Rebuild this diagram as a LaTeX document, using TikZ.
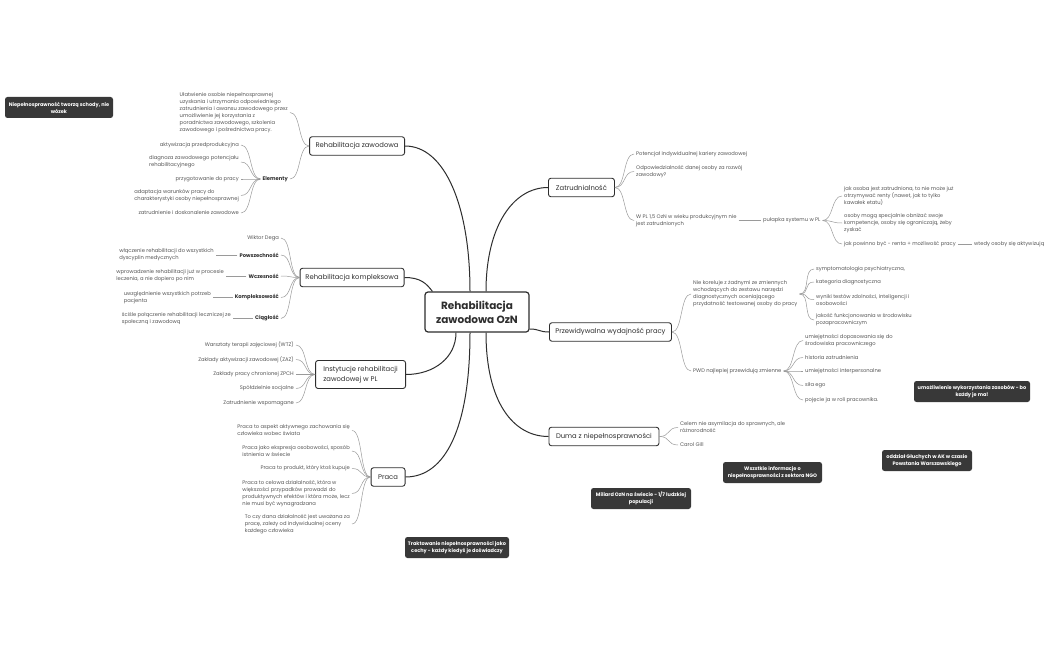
\documentclass[tikz,border=0pt]{standalone}
\usepackage{fontspec}
\setmainfont{Poppins}
\definecolor{dk}{HTML}{2E2E2E}
\definecolor{lfc}{HTML}{555555}
\definecolor{lnc}{HTML}{9A9A9A}
\definecolor{ntc}{HTML}{383838}
\newcommand\myleaffont{\fontsize{5.2}{7}\selectfont}
\newcommand\mytopicfont{\fontsize{6.8}{10}\selectfont}
\newcommand\mynotefont{\bfseries\fontsize{5}{7}\selectfont}
\newcommand\brL[2]{\draw[br] (#1.west) .. controls +(-11,0) and +(11,0) .. (#2.east);}
\newcommand\brR[2]{\draw[br] (#1.east) .. controls +(11,0) and +(-11,0) .. (#2.west);}
\begin{document}
\begin{tikzpicture}[x=1pt,y=-1pt,
  mainln/.style={draw=dk,line width=1pt},
  br/.style={draw=lnc,line width=0.5pt},
  centerbox/.style={draw=dk,line width=1.2pt,rounded corners=3pt,fill=white,font=\bfseries\fontsize{10.5}{14}\selectfont,text=dk,align=center,minimum width=104pt,minimum height=40pt,inner sep=0pt},
  topic/.style={draw=dk,line width=0.9pt,rounded corners=2.5pt,fill=white,font=\mytopicfont,text=dk,minimum height=18.5pt,inner sep=0pt,align=center},
  leafL/.style={anchor=east,align=left,font=\myleaffont,text=lfc,inner xsep=2pt,inner ysep=1pt},
  leafR/.style={anchor=west,align=left,font=\myleaffont,text=lfc,inner xsep=2pt,inner ysep=1pt},
  subL/.style={anchor=east,font=\bfseries\myleaffont,text=dk,inner xsep=2pt,inner ysep=1pt},
  note/.style={fill=ntc,rounded corners=2.5pt,text=white,font=\mynotefont,align=center,minimum height=21pt,inner sep=0pt}
]
\fill[white] (0,0) rectangle (1050,650);
\useasboundingbox (0,0) rectangle (1050,650);

% central
\node[centerbox] (c) at (477,312) {Rehabilitacja\\zawodowa OzN};

% main topics
\node[topic,anchor=east,minimum width=95pt] (rz) at (405,146) {Rehabilitacja zawodowa};
\node[topic,anchor=east,minimum width=104pt] (rk) at (404.5,277.5) {Rehabilitacja kompleksowa};
\node[topic,anchor=east,minimum width=90pt,minimum height=28pt,align=left] (in) at (406,374.5) {Instytucje rehabilitacji\\zawodowej w PL};
\node[topic,anchor=east,minimum width=34pt] (pr) at (405.5,477) {Praca};
\node[topic,anchor=west,minimum width=66pt] (za) at (548,187.5) {Zatrudnialność};
\node[topic,anchor=west,minimum width=122pt] (pw) at (549,332) {Przewidywalna wydajność pracy};
\node[topic,anchor=west,minimum width=110pt] (du) at (548.5,436.5) {Duma z niepełnosprawności};

\draw[mainln] ([xshift=-7pt]c.north) .. controls +(0,-85) and +(40,0) .. (rz.east);
\draw[mainln] ([xshift=9pt]c.north) .. controls +(0,-65) and +(-35,0) .. (za.west);
\draw[mainln] (rk.east) .. controls +(16,0) and +(-6,-8) .. ([xshift=8pt]c.north west);
\draw[mainln] ([yshift=-17pt]c.east) .. controls +(10,0) and +(-10,0) .. (pw.west);
\draw[mainln] ([xshift=-21pt]c.south) .. controls +(0,25) and +(28,0) .. (in.east);
\draw[mainln] ([xshift=-7pt]c.south) .. controls +(0,95) and +(40,0) .. (pr.east);
\draw[mainln] ([xshift=9pt]c.south) .. controls +(0,70) and +(-35,0) .. (du.west);

% Rehabilitacja zawodowa
\node[leafL] (rz1) at (290,112.5) {Ułatwienie osobie niepełnosprawnej\\uzyskania i utrzymania odpowiedniego\\zatrudnienia i awansu zawodowego przez\\umożliwienie jej korzystania z\\poradnictwa zawodowego, szkolenia\\zawodowego i pośrednictwa pracy.};
\node[subL] (el) at (290,179) {Elementy};
\node[leafL] (e1) at (241,145) {aktywizacja przedprodukcyjna};
\node[leafL] (e2) at (241,162) {diagnoza zawodowego potencjału\\rehabilitacyjnego};
\node[leafL] (e3) at (241,179) {przygotowanie do pracy};
\node[leafL] (e4) at (241,195.5) {adaptacja warunków pracy do\\charakterystyki osoby niepełnosprawnej};
\node[leafL] (e5) at (241,213) {zatrudnienie i doskonalenie zawodowe};
\brL{rz}{rz1} \brL{rz}{el}
\brL{el}{e1} \brL{el}{e2} \brL{el}{e3} \brL{el}{e4} \brL{el}{e5}

% Rehabilitacja kompleksowa
\node[leafL] (k0) at (281,238) {Wiktor Dega};
\node[subL] (k1) at (281,255) {Powszechność};
\node[subL] (k2) at (281,276) {Wczesność};
\node[subL] (k3) at (281,297.5) {Kompleksowość};
\node[subL] (k4) at (281,318.5) {Ciągłość};
\brL{rk}{k0} \brL{rk}{k1} \brL{rk}{k2} \brL{rk}{k3} \brL{rk}{k4}
\node[leafL] (k1l) at (216,255) {włączenie rehabilitacji do wszystkich\\dyscyplin medycznych};
\node[leafL] (k2l) at (226,276) {wprowadzenie rehabilitacji już w procesie\\leczenia, a nie dopiero po nim};
\node[leafL] (k3l) at (213,297.5) {uwzględnienie wszystkich potrzeb\\pacjenta};
\node[leafL] (k4l) at (233,318.5) {ściśle połączenie rehabilitacji leczniczej ze\\społeczną i zawodową};
\draw[br] (k1.west) -- (k1l.east);
\draw[br] (k2.west) -- (k2l.east);
\draw[br] (k3.west) -- (k3l.east);
\draw[br] (k4.west) -- (k4l.east);

% Instytucje
\node[leafL] (i1) at (296,345) {Warsztaty terapii zajęciowej (WTZ)};
\node[leafL] (i2) at (296,359.5) {Zakłady aktywizacji zawodowej (ZAZ)};
\node[leafL] (i3) at (296,374.5) {Zakłady pracy chronionej ZPCH};
\node[leafL] (i4) at (296,388.5) {Spółdzielnie socjalne};
\node[leafL] (i5) at (296,403) {Zatrudnienie wspomagane};
\brL{in}{i1} \brL{in}{i2} \brL{in}{i3} \brL{in}{i4} \brL{in}{i5}

% Praca
\node[leafL] (p1) at (352,430.5) {Praca to aspekt aktywnego zachowania się\\człowieka wobec świata};
\node[leafL] (p2) at (352,451) {Praca jako ekspresja osobowości, sposób\\istnienia w świecie};
\node[leafL] (p3) at (352,468.5) {Praca to produkt, który ktoś kupuje};
\node[leafL] (p4) at (352,493.5) {Praca to celowa działalność, która w\\większości przypadków prowadzi do\\produktywnych efektów i która może, lecz\\nie musi być wynagradzana};
\node[leafL] (p5) at (352,524) {To czy dana działalność jest uważana za\\pracę, zależy od indywidualnej oceny\\każdego człowieka};
\brL{pr}{p1} \brL{pr}{p2} \brL{pr}{p3} \brL{pr}{p4} \brL{pr}{p5}

% Zatrudnialnosc
\node[leafR] (z1) at (634,154) {Potencjał indywidualnej kariery zawodowej};
\node[leafR] (z2) at (634,171.5) {Odpowiedzialność danej osoby za rozwój\\zawodowy?};
\node[leafR] (z3) at (634,220.5) {W PL 1,5 OzN w wieku produkcyjnym nie\\jest zatrudnionych};
\brR{za}{z1} \brR{za}{z2} \brR{za}{z3}
\node[leafR] (pu) at (761,220.5) {pułapka systemu w PL};
\draw[br] (z3.east) -- (pu.west);
\node[leafR] (u1) at (842,196) {jak osoba jest zatrudniona, to nie może już\\otrzymywać renty (nawet, jak to tylko\\kawałek etatu)};
\node[leafR] (u2) at (842,223) {osoby mogą specjalnie obniżać swoje\\kompetencje, osoby się ograniczają, żeby\\zyskać};
\node[leafR] (u3) at (842,244) {jak powinno być - renta + możliwość pracy};
\brR{pu}{u1} \brR{pu}{u2} \brR{pu}{u3}
\node[leafR] (u3a) at (972,244) {wtedy osoby się aktywizują};
\draw[br] (u3.east) -- (u3a.west);

% Przewidywalna
\node[leafR] (w1) at (691,294) {Nie koreluje z żadnymi ze zmiennych\\wchodzących do zestawu narzędzi\\diagnostycznych oceniającego\\przydatność testowanej osoby do pracy};
\node[leafR] (w2) at (691,371) {PWD najlepiej przewidują zmienne};
\brR{pw}{w1} \brR{pw}{w2}
\node[leafR] (a1) at (814,269) {symptomatologia psychiatryczna,};
\node[leafR] (a2) at (814,282) {kategoria diagnostyczna};
\node[leafR] (a3) at (814,299.5) {wyniki testów zdolności, inteligencji i\\osobowości};
\node[leafR] (a4) at (814,320) {jakość funkcjonowania w środowisku\\pozapracowniczym};
\brR{w1}{a1} \brR{w1}{a2} \brR{w1}{a3} \brR{w1}{a4}
\node[leafR] (b1) at (803,340.5) {umiejętności dopasowania się do\\środowiska pracowniczego};
\node[leafR] (b2) at (803,357.5) {historia zatrudnienia};
\node[leafR] (b3) at (803,371) {umiejętności interpersonalne};
\node[leafR] (b4) at (803,385.5) {siła ego};
\node[leafR] (b5) at (803,400) {pojęcie ja w roli pracownika.};
\brR{w2}{b1} \brR{w2}{b2} \brR{w2}{b3} \brR{w2}{b4} \brR{w2}{b5}

% Duma
\node[leafR] (d1) at (678,427.5) {Celem nie asymilacja do sprawnych, ale\\różnorodność};
\node[leafR] (d2) at (678,445) {Carol Gill};
\brR{du}{d1} \brR{du}{d2}

% notes
\node[note,minimum width=108pt] (n1) at (59,107.5) {Niepełnosprawność tworzą schody, nie\\wózek};
\node[note,minimum width=116pt] (n2) at (972,391.5) {umożliwienie wykorzystania zasobów - bo\\każdy je ma!};
\node[note,minimum width=90pt] (n3) at (927,460.5) {oddział Głuchych w AK w czasie\\Powstania Warszawskiego};
\node[note,minimum width=99pt] (n4) at (772.5,472.5) {Wszstkie informacje o\\niepełnosprawności z sektora NGO};
\node[note,minimum width=100pt] (n5) at (641,498.5) {Miliard OzN na świecie - 1/7 ludzkiej\\populacji};
\node[note,minimum width=104pt] (n6) at (457,547.5) {Traktowanie niepełnosprawności jako\\cechy - każdy kiedyś je doświadczy};
\end{tikzpicture}
\end{document}
